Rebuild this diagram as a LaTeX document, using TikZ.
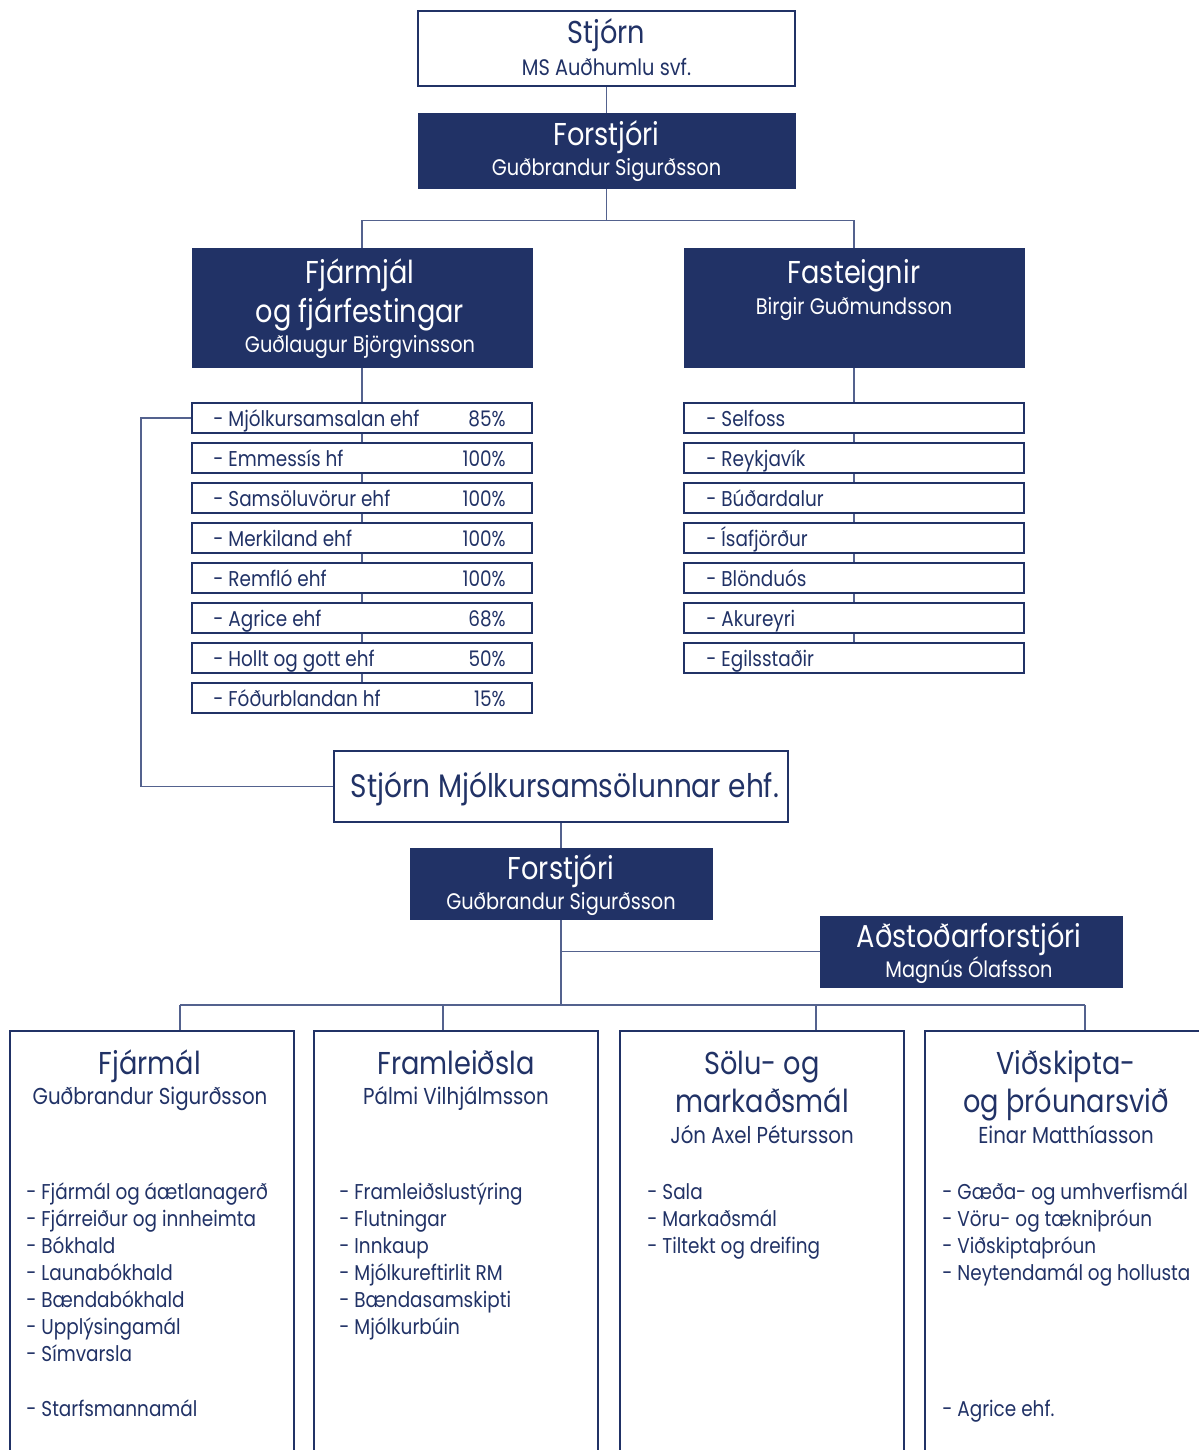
\documentclass[tikz,border=0pt]{standalone}
\usepackage{fontspec}
\setmainfont{Poppins}[FakeStretch=0.86]
\usetikzlibrary{backgrounds}
\definecolor{navy}{RGB}{33,50,102}
\definecolor{lina}{RGB}{84,98,142}

\tikzstyle{hvit}=[draw=navy,fill=white,line width=0.9pt,inner sep=0pt]
\tikzstyle{blar}=[draw=navy,fill=navy,inner sep=0pt]
\tikzstyle{linur}=[draw=lina,line width=0.9pt]
\tikzstyle{hus}=[hvit,minimum width=6.8cm,minimum height=0.6cm]
\tikzstyle{deild}=[hvit,anchor=north west,minimum width=5.68cm,minimum height=10cm]
\tikzstyle{fyrir}=[font=\fontsize{18}{20}\selectfont,anchor=mid,inner sep=0pt,yshift=-0.08cm]
\tikzstyle{nafn}=[font=\fontsize{12.8}{14}\selectfont,anchor=mid,inner sep=0pt,yshift=-0.07cm]
\tikzstyle{lidur}=[font=\fontsize{12.2}{14}\selectfont,anchor=mid west,inner sep=0pt,text=navy,yshift=-0.07cm]
\def\bil{27}

\begin{document}
\begin{tikzpicture}[x=0.02cm,y=-0.02cm]
	\useasboundingbox (0,0) rectangle (1199,1450);
	\clip (0,0) rectangle (1199,1450);
	% efsta lag
	\node[hvit,minimum width=7.54cm,minimum height=1.5cm] (stjorn) at (606.5,48.5) {};
	\node[fyrir,text=navy] (stjornA) at (606.5,35) {Stjórn};
	\node[nafn,text=navy] (stjornB) at (606.5,67) {MS Auðhumlu svf.};
	\node[blar,minimum width=7.54cm,minimum height=1.5cm] (forstjori) at (606.5,150.5) {};
	\node[fyrir,text=white] (forstjoriA) at (606.5,137) {Forstjóri};
	\node[nafn,text=white] (forstjoriB) at (606.5,167) {Guðbrandur Sigurðsson};
	% fjarmal og fasteignir
	\node[blar,minimum width=6.8cm,minimum height=2.38cm] (fjarmjal) at (362,307.5) {};
	\node[fyrir,text=white] (fjarmjalA) at (360,275) {Fjármjál};
	\node[fyrir,text=white] (fjarmjalB) at (360,314) {og fjárfestingar};
	\node[nafn,text=white] (fjarmjalC) at (360,344) {Guðlaugur Björgvinsson};
	\node[blar,minimum width=6.8cm,minimum height=2.38cm] (fasteign) at (854,307.5) {};
	\node[fyrir,text=white] (fasteignA) at (854,275) {Fasteignir};
	\node[nafn,text=white] (fasteignB) at (854,306) {Birgir Guðmundsson};
	% dotturfelog
	\foreach \t/\p [count=\i] in {Mjólkursamsalan ehf/85\%,Emmessís hf/100\%,Samsöluvörur ehf/100\%,Merkiland ehf/100\%,Remfló ehf/100\%,Agrice ehf/68\%,Hollt og gott ehf/50\%,Fóðurblandan hf/15\%} {
		\node[hus] (mj\i) at (362,{378+40*\i}) {};
		\node[lidur] (mjt\i) at (213,{378+40*\i}) {- \t};
		\node[lidur,anchor=mid east] (mjp\i) at (506,{378+40*\i}) {\p};
	}
	\foreach \t [count=\i] in {Selfoss,Reykjavík,Búðardalur,Ísafjörður,Blönduós,Akureyri,Egilsstaðir} {
		\node[hus] (st\i) at (854,{378+40*\i}) {};
		\node[lidur] (stt\i) at (706,{378+40*\i}) {- \t};
	}
	% mjolkursamsalan
	\node[hvit,minimum width=9.08cm,minimum height=1.42cm] (stjornms) at (561,786.5) {};
	\node[fyrir,text=navy,font=\fontsize{18.5}{20}\selectfont] (stjornmsA) at (565,789) {Stjórn Mjólkursamsölunnar ehf.};
	\node[blar,minimum width=6.04cm,minimum height=1.42cm] (forstjori2) at (561,883.5) {};
	\node[fyrir,text=white] (forstjori2A) at (561,871) {Forstjóri};
	\node[nafn,text=white] (forstjori2B) at (561,901) {Guðbrandur Sigurðsson};
	\node[blar,minimum width=6.04cm,minimum height=1.42cm] (adstod) at (971,951.5) {};
	\node[fyrir,text=white] (adstodA) at (969,939) {Aðstoðarforstjóri};
	\node[nafn,text=white] (adstodB) at (969,969) {Magnús Ólafsson};
	% svid
	\node[deild] (fjarmal) at (9,1030) {};
	\node[deild] (framl) at (313,1030) {};
	\node[deild] (solu) at (619,1030) {};
	\node[deild] (vidsk) at (924,1030) {};
	\node[fyrir,text=navy] (fjarmalA) at (150,1066) {Fjármál};
	\node[nafn,text=navy,font=\fontsize{13.1}{14}\selectfont] (fjarmalB) at (150,1096) {Guðbrandur Sigurðsson};
	\node[fyrir,text=navy] (framlA) at (456,1066) {Framleiðsla};
	\node[nafn,text=navy,font=\fontsize{13.1}{14}\selectfont] (framlB) at (456,1096) {Pálmi Vilhjálmsson};
	\node[fyrir,text=navy] (soluA) at (762,1066) {Sölu- og};
	\node[fyrir,text=navy] (soluB) at (762,1104) {markaðsmál};
	\node[nafn,text=navy,font=\fontsize{13.1}{14}\selectfont] (soluC) at (762,1135) {Jón Axel Pétursson};
	\node[fyrir,text=navy] (vidskA) at (1066,1066) {Viðskipta-};
	\node[fyrir,text=navy] (vidskB) at (1066,1104) {og þróunarsvið};
	\node[nafn,text=navy,font=\fontsize{13.1}{14}\selectfont] (vidskC) at (1066,1135) {Einar Matthíasson};
	\foreach \t [count=\i] in {Fjármál og áætlanagerð,Fjárreiður og innheimta,Bókhald,Launabókhald,Bændabókhald,Upplýsingamál,Símvarsla}
		\node[lidur] (fjarmal\i) at (26,{1164+\bil*\i}) {- \t};
	\node[lidur] (fjarmal8) at (26,1408) {- Starfsmannamál};
	\foreach \t [count=\i] in {Framleiðslustýring,Flutningar,Innkaup,Mjólkureftirlit RM,Bændasamskipti,Mjólkurbúin}
		\node[lidur] (framl\i) at (339,{1164+\bil*\i}) {- \t};
	\foreach \t [count=\i] in {Sala,Markaðsmál,Tiltekt og dreifing}
		\node[lidur] (solu\i) at (647,{1164+\bil*\i}) {- \t};
	\foreach \t [count=\i] in {Gæða- og umhverfismál,Vöru- og tækniþróun,Viðskiptaþróun,Neytendamál og hollusta}
		\node[lidur] (vidsk\i) at (942,{1164+\bil*\i}) {- \t};
	\node[lidur] (vidsk5) at (942,1408) {- Agrice ehf.};
	% tengingar
	\begin{scope}[on background layer]
		\draw[linur] (stjorn.south) -- (forstjori.north);
		\draw[linur] (forstjori.south) -- ++(0,32) -| (fjarmjal.north);
		\draw[linur] (forstjori.south) ++(0,32) -| (fasteign.north);
		\draw[linur] (fjarmjal.south) -- (mj8.north);
		\draw[linur] (fasteign.south) -- (st7.north);
		\draw[linur] (mj1.west) -- ++(-50,0) |- (stjornms.west);
		\draw[linur] (stjornms.south) -- (forstjori2.north);
		\draw[linur] (forstjori2.south) -- (forstjori2.south |- 0,1005);
		\draw[linur] (forstjori2.south |- adstod.west) -- (adstod.west);
		\draw[linur] (180,1005) -- (1085,1005);
		\foreach \x/\b in {180/fjarmal,443/framl,816/solu,1085/vidsk}
			\draw[linur] (\x,1005) -- (\x,1005 |- \b.north);
	\end{scope}
\end{tikzpicture}
\end{document}
